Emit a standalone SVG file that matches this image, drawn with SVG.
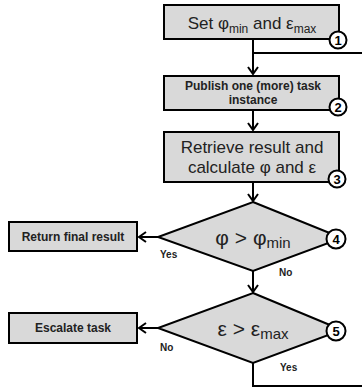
<svg xmlns="http://www.w3.org/2000/svg" width="362" height="389" viewBox="0 0 362 389">
<style>
.box{fill:#d9d9d9;stroke:#000;stroke-width:2}
.num{fill:#fff;stroke:#000;stroke-width:2}
.numt{font-family:"Liberation Sans",Arial,sans-serif;font-weight:bold;font-size:13px;text-anchor:middle;fill:#000}
.big{font-family:"Liberation Sans",Arial,sans-serif;font-size:17px;text-anchor:middle;fill:#222}
.bold{font-family:"Liberation Sans",Arial,sans-serif;font-weight:bold;font-size:12px;text-anchor:middle;fill:#222}
.dec{font-family:"Liberation Sans",Arial,sans-serif;font-size:21px;text-anchor:middle;fill:#222}
.lbl{font-family:"Liberation Sans",Arial,sans-serif;font-weight:bold;font-size:10px;fill:#222}
.ln{fill:none;stroke:#000;stroke-width:2}
</style>
<defs>
<marker id="arr" markerUnits="userSpaceOnUse" markerWidth="12" markerHeight="12" viewBox="0 0 12 12" refX="10" refY="6" orient="auto">
<path d="M3,1 L10,6 L3,11" fill="none" stroke="#000" stroke-width="2"/>
</marker>
</defs>
<rect width="362" height="389" fill="#fff"/>
<g id="connectors">
<path class="ln" d="M253,39 V74" marker-end="url(#arr)"/>
<path class="ln" d="M253,53 H362"/>
<path class="ln" d="M253,110 V130" marker-end="url(#arr)"/>
<path class="ln" d="M253,182 V201" marker-end="url(#arr)"/>
<path class="ln" d="M158,237 H139" marker-end="url(#arr)"/>
<path class="ln" d="M253,271 V292" marker-end="url(#arr)"/>
<path class="ln" d="M158,328 H139" marker-end="url(#arr)"/>
<path class="ln" d="M253,363 V386 H362"/>
<text class="lbl" x="160" y="258">Yes</text>
<text class="lbl" x="279" y="276">No</text>
<text class="lbl" x="160" y="351">No</text>
<text class="lbl" x="280" y="371">Yes</text>
</g>
<g id="n1">
<rect class="box" x="164" y="5" width="175" height="34"/>
<text class="big" x="252" y="29">Set φ<tspan font-size="12" dy="4">min</tspan><tspan dy="-4"> and ε</tspan><tspan font-size="12" dy="4">max</tspan></text>
<circle class="num" cx="338" cy="40" r="8.5"/>
<text class="numt" x="338" y="44.5">1</text>
</g>
<g id="n2">
<rect class="box" x="164" y="76" width="175" height="34"/>
<text class="bold" x="253" y="90">Publish one (more) task</text>
<text class="bold" x="253" y="104">instance</text>
<circle class="num" cx="338" cy="107" r="8.5"/>
<text class="numt" x="338" y="111.5">2</text>
</g>
<g id="n3">
<rect class="box" x="164" y="132" width="175" height="50"/>
<text class="big" x="252" y="153">Retrieve result and</text>
<text class="big" x="252" y="173">calculate φ and ε</text>
<circle class="num" cx="337" cy="179" r="8.5"/>
<text class="numt" x="337" y="183.5">3</text>
</g>
<g id="n4">
<polygon class="box" points="253,202 342,238 253,271 158,237"/>
<text class="dec" x="253" y="245">φ &gt; φ<tspan font-size="15" dy="3">min</tspan></text>
<circle class="num" cx="336" cy="239" r="9.5"/>
<text class="numt" x="336" y="243.5">4</text>
</g>
<g id="n5">
<polygon class="box" points="253,293 342,330 253,363 158,328"/>
<text class="dec" x="253" y="336">ε &gt; ε<tspan font-size="15" dy="3">max</tspan></text>
<circle class="num" cx="336" cy="331" r="9.5"/>
<text class="numt" x="336" y="335.5">5</text>
</g>
<g id="n6">
<rect class="box" x="9" y="222" width="128" height="29"/>
<text class="bold" x="73" y="241">Return final result</text>
</g>
<g id="n7">
<rect class="box" x="9" y="313" width="128" height="30"/>
<text class="bold" x="73" y="332">Escalate task</text>
</g>
</svg>
